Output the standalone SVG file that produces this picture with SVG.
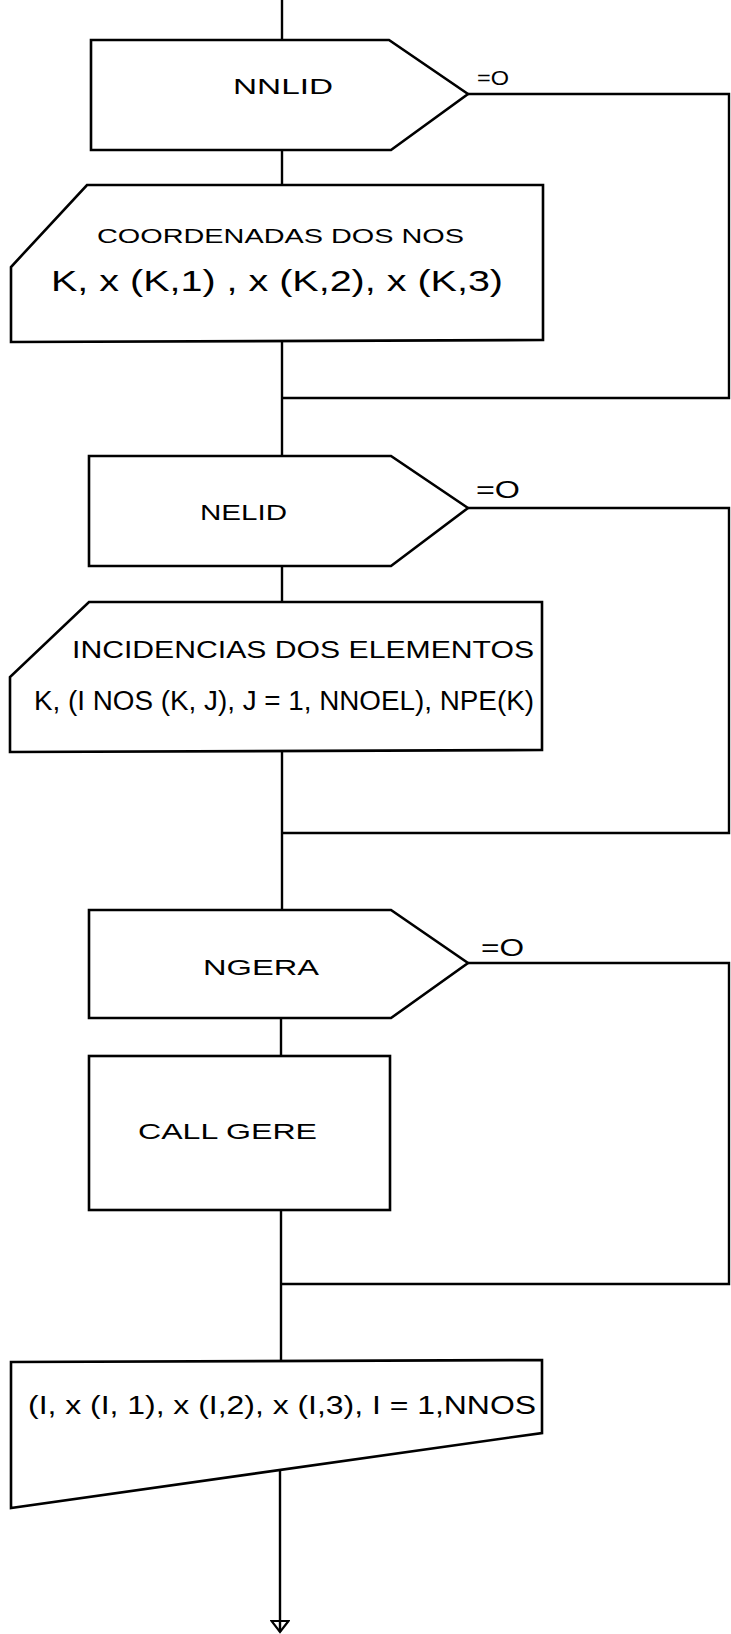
<svg xmlns="http://www.w3.org/2000/svg" width="731" height="1634" viewBox="0 0 731 1634">
<defs>
<marker id="arr" markerUnits="userSpaceOnUse" markerWidth="14" markerHeight="20" viewBox="-1 -10 14 20" refX="11" refY="0" orient="auto">
<path d="M0,-8.5 L11,0 L0,8.5 Z" fill="none" stroke="#000" stroke-width="2.2"/>
</marker>
<style>
.s{fill:#fff;stroke:#000;stroke-width:2.6;stroke-linejoin:miter}
.c{fill:none;stroke:#000;stroke-width:2.4}
text{font-family:"Liberation Sans","DejaVu Sans",sans-serif;fill:#000}
</style>
</defs>
<rect width="731" height="1634" fill="#fff"/>
<g id="connectors">
<path class="c" d="M282,0 V40"/>
<path class="c" d="M282,150 V185"/>
<path class="c" d="M282,341 V457"/>
<path class="c" d="M282,566 V602"/>
<path class="c" d="M282,751 V910"/>
<path class="c" d="M281,1018 V1056"/>
<path class="c" d="M281,1210 V1361"/>
<path class="c" d="M280,1470 V1632" marker-end="url(#arr)"/>
<path class="c" d="M468,94 H729 V398 H282"/>
<path class="c" d="M468,508 H729 V833 H282"/>
<path class="c" d="M468,963 H729 V1284 H281"/>
<text x="477" y="85" font-size="20" textLength="32" lengthAdjust="spacingAndGlyphs">=O</text>
<text x="476" y="498" font-size="24" textLength="44" lengthAdjust="spacingAndGlyphs">=O</text>
<text x="481" y="956" font-size="24" textLength="43" lengthAdjust="spacingAndGlyphs">=O</text>
</g>
<g id="n-nnlid">
<polygon class="s" points="91,40 389,40 468,94 391,150 91,150"/>
<text x="233" y="94" font-size="22" textLength="100" lengthAdjust="spacingAndGlyphs">NNLID</text>
</g>
<g id="n-coord">
<polygon class="s" points="87,185 543,185 543,340 11,342 11,267"/>
<text x="97" y="243" font-size="20" textLength="367" lengthAdjust="spacingAndGlyphs">COORDENADAS DOS NOS</text>
<text x="51" y="291" font-size="30" textLength="452" lengthAdjust="spacingAndGlyphs">K, x (K,1) , x (K,2), x (K,3)</text>
</g>
<g id="n-nelid">
<polygon class="s" points="89,456 391,456 468,508 391,566 89,566"/>
<text x="200" y="520" font-size="22" textLength="87" lengthAdjust="spacingAndGlyphs">NELID</text>
</g>
<g id="n-incid">
<polygon class="s" points="89,602 542,602 542,750 10,752 10,677"/>
<text x="72" y="658" font-size="23" textLength="462" lengthAdjust="spacingAndGlyphs">INCIDENCIAS DOS ELEMENTOS</text>
<text x="34" y="710" font-size="27" textLength="500" lengthAdjust="spacingAndGlyphs">K, (I NOS (K, J), J = 1, NNOEL), NPE(K)</text>
</g>
<g id="n-ngera">
<polygon class="s" points="89,910 391,910 468,963 391,1018 89,1018"/>
<text x="203" y="975" font-size="22" textLength="116" lengthAdjust="spacingAndGlyphs">NGERA</text>
</g>
<g id="n-call">
<rect class="s" x="89" y="1056" width="301" height="154"/>
<text x="138" y="1139" font-size="22" textLength="179" lengthAdjust="spacingAndGlyphs">CALL GERE</text>
</g>
<g id="n-output">
<polygon class="s" points="11,1362 542,1360 542,1433 11,1508"/>
<text x="28" y="1414" font-size="26" textLength="508" lengthAdjust="spacingAndGlyphs">(I, x (I, 1), x (I,2), x (I,3), I = 1,NNOS</text>
</g>
</svg>
